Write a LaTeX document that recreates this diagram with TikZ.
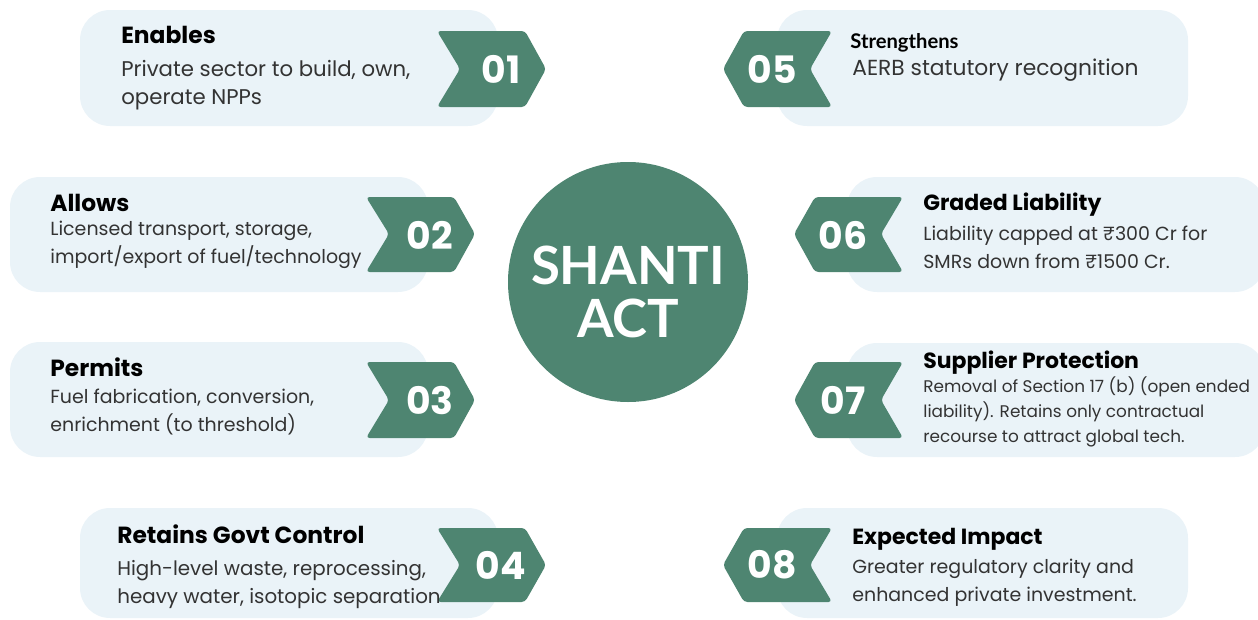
\documentclass[tikz,border=0pt]{standalone}
\usepackage{fontspec}
\setmainfont{Poppins}
\newfontfamily\latofont{Lato}
\usepackage{tikz}
\usetikzlibrary{positioning}

\definecolor{actgreen}{HTML}{4E8571}
\definecolor{cardbg}{HTML}{EAF3F8}
\definecolor{bodygray}{HTML}{333333}

\begin{document}
\begin{tikzpicture}[
  x=0.02cm, y=-0.02cm,
  card/.style={fill=cardbg, rounded corners=0.6cm},
  tag/.style={fill=actgreen, rounded corners=2pt},
  num/.style={text=white, font=\fontsize{21.5}{22}\bfseries\selectfont, inner sep=0},
  head/.style={anchor=base west, inner sep=0, text=black, font=\fontsize{13.3}{15}\bfseries\selectfont},
  headr/.style={head, font=\fontsize{12.5}{14}\bfseries\selectfont},
  % base of a two-line body sits on its last line
  body/.style={anchor=base west, inner sep=0, align=left, text=bodygray, font=\fontsize{10.8}{15.9}\selectfont}
  ]
  \useasboundingbox (0,0) rectangle (1258,619);
  % centre disc
  \fill[actgreen] (628,282) circle (120);
  \node[text=white, align=center, font=\fontsize{30}{30}\latofont\bfseries\selectfont] (act) at (628,292) {SHANTI\\ACT};

  % 01 enables
  \fill[card] (80,10) rectangle (498,126);
  \fill[tag] (437,31) -- (525,31) -- (546,69) -- (525,107) -- (437,107) -- (460,69) -- cycle;
  \node[num] (n1) at (501,69) {01};
  \node[head] (h1) at (121,43) {Enables};
  \node[body, font=\fontsize{12.1}{15.9}\selectfont] (b1) at (121,104) {Private sector to build, own,\\operate NPPs};

  % 02 allows
  \fill[card] (10,177) rectangle (428,292);
  \fill[tag] (366,197) -- (454,197) -- (475,234) -- (454,272) -- (366,272) -- (389,234) -- cycle;
  \node[num] (n2) at (430,235) {02};
  \node[head] (h2) at (50,211) {Allows};
  \node[body] (b2) at (50,263) {Licensed transport, storage,\\import/export of fuel/technology};

  % 03 permits
  \fill[card] (10,342) rectangle (428,457);
  \fill[tag] (366,362) -- (454,362) -- (475,400) -- (454,438) -- (366,438) -- (389,400) -- cycle;
  \node[num] (n3) at (430,400) {03};
  \node[head] (h3) at (50,376) {Permits};
  \node[body] (b3) at (50,431) {Fuel fabrication, conversion,\\enrichment (to threshold)};

  % 04 govt control
  \fill[card] (80,508) rectangle (498,618);
  \fill[tag] (437,528) -- (525,528) -- (546,565) -- (525,602) -- (437,602) -- (460,565) -- cycle;
  \node[num] (n4) at (501,565) {04};
  \node[head] (h4) at (117,543) {Retains Govt Control};
  \node[body, font=\fontsize{11.3}{15.9}\selectfont] (b4) at (117,603) {High-level waste, reprocessing,\\heavy water, isotopic separation};

  % 05 strengthens
  \fill[card] (777,10) rectangle (1188,126);
  \fill[tag] (832,31) -- (744,31) -- (723,69) -- (744,107) -- (832,107) -- (810,69) -- cycle;
  \node[num] (n5) at (772,69) {05};
  \node[head, font=\fontsize{11.5}{13}\latofont\bfseries\selectfont] (h5) at (850,48) {Strengthens};
  \node[body, font=\fontsize{12.4}{15.9}\selectfont] (b5) at (852,75) {AERB statutory recognition};

  % 06 graded liability
  \fill[card] (847,177) rectangle (1265,292);
  \fill[tag] (903,197) -- (815,197) -- (794,234) -- (815,272) -- (903,272) -- (881,234) -- cycle;
  \node[num] (n6) at (843,235) {06};
  \node[headr] (h6) at (923,210) {Graded Liability};
  \node[body] (b6) at (923,268) {Liability capped at ₹300 Cr for\\SMRs down from ₹1500 Cr.};

  % 07 supplier protection
  \fill[card] (847,343) rectangle (1265,457);
  \fill[tag] (903,362) -- (815,362) -- (794,400) -- (815,438) -- (903,438) -- (881,400) -- cycle;
  \node[num] (n7) at (843,400) {07};
  \node[headr] (h7) at (923,368) {Supplier Protection};
  \node[body, font=\fontsize{9.6}{14.2}\selectfont] (b7) at (923,442) {Removal of Section 17 (b) (open ended\\liability). Retains only contractual\\recourse to attract global tech.};

  % 08 expected impact
  \fill[card] (777,508) rectangle (1188,618);
  \fill[tag] (832,528) -- (744,528) -- (723,565) -- (744,602) -- (832,602) -- (810,565) -- cycle;
  \node[num] (n8) at (772,565) {08};
  \node[headr] (h8) at (852,544) {Expected Impact};
  \node[body] (b8) at (852,601) {Greater regulatory clarity and\\enhanced private investment.};
\end{tikzpicture}
\end{document}
